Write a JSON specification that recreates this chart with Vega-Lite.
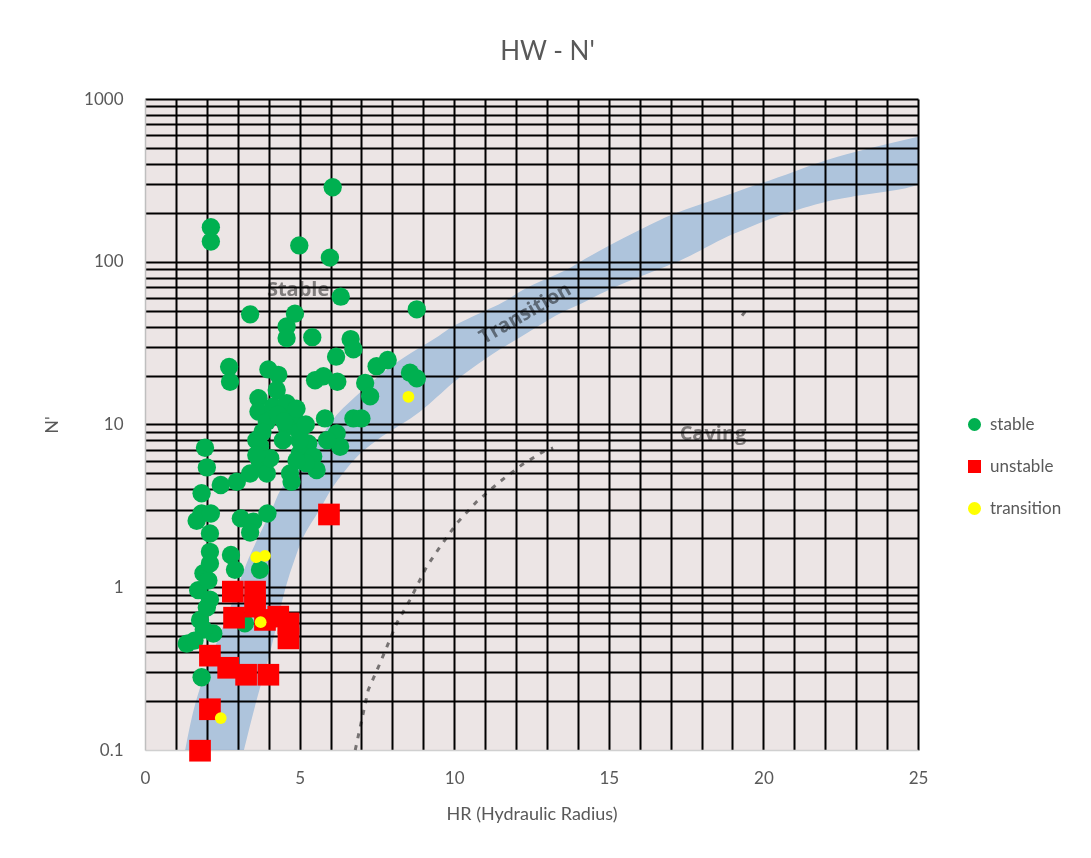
{
  "$schema": "https://vega.github.io/schema/vega-lite/v6.json",
  "width": 773,
  "height": 651,
  "autosize": {"type": "none"},
  "padding": {"left": 145, "top": 99, "right": 173, "bottom": 108},
  "background": "white",
  "config": {
    "font": "Lato",
    "view": {"fill": "#ece5e5", "stroke": null}
  },
  "title": {
    "text": "HW - N'",
    "fontSize": 26,
    "fontWeight": "normal",
    "color": "#595959",
    "anchor": "middle",
    "dx": 16,
    "offset": 25
  },
  "datasets": {
    "band": [
      {"n": 0.1, "hr": 1.3, "hr2": 3.2},
      {"n": 0.2, "hr": 1.65, "hr2": 3.6},
      {"n": 0.4, "hr": 2.2, "hr2": 4.05},
      {"n": 0.7, "hr": 2.7, "hr2": 4.35},
      {"n": 1.0, "hr": 3.0, "hr2": 4.55},
      {"n": 1.5, "hr": 3.35, "hr2": 4.85},
      {"n": 2.0, "hr": 3.65, "hr2": 5.1},
      {"n": 3.0, "hr": 4.1, "hr2": 5.65},
      {"n": 4.15, "hr": 4.45, "hr2": 6.08},
      {"n": 5.0, "hr": 4.8, "hr2": 6.4},
      {"n": 7.0, "hr": 5.35, "hr2": 7.1},
      {"n": 8.0, "hr": 5.6, "hr2": 7.5},
      {"n": 12, "hr": 6.3, "hr2": 8.9},
      {"n": 14.8, "hr": 6.8, "hr2": 9.45},
      {"n": 18, "hr": 7.3, "hr2": 9.95},
      {"n": 21.6, "hr": 7.8, "hr2": 10.5},
      {"n": 26, "hr": 8.4, "hr2": 11.1},
      {"n": 35, "hr": 9.5, "hr2": 12.2},
      {"n": 40, "hr": 9.95, "hr2": 12.7},
      {"n": 49, "hr": 10.9, "hr2": 13.5},
      {"n": 53, "hr": 11.3, "hr2": 13.9},
      {"n": 70, "hr": 12.4, "hr2": 15.2},
      {"n": 93, "hr": 13.8, "hr2": 16.8},
      {"n": 98, "hr": 14.0, "hr2": 17.1},
      {"n": 150, "hr": 15.8, "hr2": 19.1},
      {"n": 200, "hr": 17.2, "hr2": 20.8},
      {"n": 240, "hr": 18.4, "hr2": 22.3},
      {"n": 303, "hr": 19.9, "hr2": 25.0},
      {"n": 316, "hr": 20.2, "hr2": 25.0},
      {"n": 441, "hr": 22.4, "hr2": 25.0},
      {"n": 586, "hr": 25.0, "hr2": 25.0}
    ],
    "dash": [
      {"seg": "a", "hr": 6.8, "n": 0.1},
      {"seg": "a", "hr": 7.22, "n": 0.234},
      {"seg": "a", "hr": 7.6, "n": 0.341},
      {"seg": "a", "hr": 8.14, "n": 0.601},
      {"seg": "a", "hr": 8.57, "n": 0.836},
      {"seg": "a", "hr": 9.11, "n": 1.34},
      {"seg": "a", "hr": 9.54, "n": 1.77},
      {"seg": "a", "hr": 10.08, "n": 2.47},
      {"seg": "a", "hr": 10.73, "n": 3.36},
      {"seg": "a", "hr": 11.48, "n": 4.46},
      {"seg": "a", "hr": 12.18, "n": 5.64},
      {"seg": "a", "hr": 12.88, "n": 6.81},
      {"seg": "a", "hr": 13.2, "n": 7.17},
      {"seg": "b", "hr": 19.31, "n": 46.7},
      {"seg": "b", "hr": 19.5, "n": 52}
    ],
    "labels": [
      {"txt": "Stable", "hr": 4.95, "n": 67, "ang": 0},
      {"txt": "Transition", "hr": 12.3, "n": 48, "ang": 330},
      {"txt": "Caving", "hr": 18.37, "n": 8.75, "ang": 0}
    ],
    "pts": [
      {"hr": 6.07, "n": 287, "status": "stable"},
      {"hr": 2.13, "n": 163, "status": "stable"},
      {"hr": 2.13, "n": 133, "status": "stable"},
      {"hr": 4.99, "n": 126, "status": "stable"},
      {"hr": 5.98, "n": 106, "status": "stable"},
      {"hr": 6.33, "n": 61, "status": "stable"},
      {"hr": 8.79, "n": 51, "status": "stable"},
      {"hr": 3.4, "n": 47.5, "status": "stable"},
      {"hr": 4.85, "n": 48, "status": "stable"},
      {"hr": 4.58, "n": 40, "status": "stable"},
      {"hr": 4.58, "n": 34, "status": "stable"},
      {"hr": 5.41, "n": 34.4, "status": "stable"},
      {"hr": 6.65, "n": 33.5, "status": "stable"},
      {"hr": 6.74, "n": 29, "status": "stable"},
      {"hr": 6.18, "n": 26.1, "status": "stable"},
      {"hr": 2.72, "n": 22.6, "status": "stable"},
      {"hr": 2.75, "n": 18.3, "status": "stable"},
      {"hr": 3.99, "n": 21.8, "status": "stable"},
      {"hr": 4.31, "n": 20.2, "status": "stable"},
      {"hr": 5.5, "n": 18.7, "status": "stable"},
      {"hr": 5.77, "n": 19.8, "status": "stable"},
      {"hr": 6.22, "n": 18.3, "status": "stable"},
      {"hr": 7.12, "n": 18, "status": "stable"},
      {"hr": 7.28, "n": 14.9, "status": "stable"},
      {"hr": 7.49, "n": 22.8, "status": "stable"},
      {"hr": 7.85, "n": 24.9, "status": "stable"},
      {"hr": 8.57, "n": 20.8, "status": "stable"},
      {"hr": 8.79, "n": 19.2, "status": "stable"},
      {"hr": 3.67, "n": 14.5, "status": "stable"},
      {"hr": 3.67, "n": 12, "status": "stable"},
      {"hr": 4.26, "n": 16.3, "status": "stable"},
      {"hr": 4.15, "n": 12.9, "status": "stable"},
      {"hr": 4.58, "n": 13.5, "status": "stable"},
      {"hr": 4.8, "n": 11.2, "status": "stable"},
      {"hr": 3.94, "n": 10.4, "status": "stable"},
      {"hr": 4.58, "n": 9.7, "status": "stable"},
      {"hr": 5.82, "n": 10.9, "status": "stable"},
      {"hr": 6.74, "n": 10.9, "status": "stable"},
      {"hr": 7.0, "n": 10.9, "status": "stable"},
      {"hr": 6.2, "n": 8.8, "status": "stable"},
      {"hr": 6.31, "n": 7.3, "status": "stable"},
      {"hr": 5.28, "n": 7.65, "status": "stable"},
      {"hr": 5.01, "n": 6.65, "status": "stable"},
      {"hr": 5.44, "n": 6.35, "status": "stable"},
      {"hr": 5.55, "n": 5.25, "status": "stable"},
      {"hr": 4.69, "n": 5.0, "status": "stable"},
      {"hr": 4.74, "n": 4.45, "status": "stable"},
      {"hr": 3.72, "n": 7.4, "status": "stable"},
      {"hr": 3.72, "n": 5.8, "status": "stable"},
      {"hr": 3.94, "n": 5.0, "status": "stable"},
      {"hr": 3.4, "n": 5.0, "status": "stable"},
      {"hr": 2.97, "n": 4.45, "status": "stable"},
      {"hr": 2.45, "n": 4.25, "status": "stable"},
      {"hr": 1.94, "n": 7.2, "status": "stable"},
      {"hr": 2.0, "n": 5.45, "status": "stable"},
      {"hr": 1.83, "n": 3.78, "status": "stable"},
      {"hr": 1.83, "n": 2.84, "status": "stable"},
      {"hr": 1.67, "n": 2.56, "status": "stable"},
      {"hr": 2.13, "n": 2.84, "status": "stable"},
      {"hr": 2.1, "n": 2.14, "status": "stable"},
      {"hr": 2.1, "n": 1.65, "status": "stable"},
      {"hr": 3.1, "n": 2.65, "status": "stable"},
      {"hr": 3.5, "n": 2.53, "status": "stable"},
      {"hr": 3.96, "n": 2.84, "status": "stable"},
      {"hr": 3.4, "n": 2.17, "status": "stable"},
      {"hr": 2.78, "n": 1.58, "status": "stable"},
      {"hr": 2.91, "n": 1.28, "status": "stable"},
      {"hr": 3.72, "n": 1.28, "status": "stable"},
      {"hr": 1.89, "n": 1.22, "status": "stable"},
      {"hr": 1.72, "n": 0.96, "status": "stable"},
      {"hr": 2.1, "n": 0.84, "status": "stable"},
      {"hr": 1.78, "n": 0.63, "status": "stable"},
      {"hr": 2.21, "n": 0.52, "status": "stable"},
      {"hr": 1.35, "n": 0.45, "status": "stable"},
      {"hr": 1.83, "n": 0.28, "status": "stable"},
      {"hr": 3.23, "n": 0.6, "status": "stable"},
      {"hr": 4.46, "n": 8.0, "status": "stable"},
      {"hr": 5.0, "n": 8.0, "status": "stable"},
      {"hr": 5.89, "n": 8.0, "status": "stable"},
      {"hr": 3.6, "n": 8.0, "status": "stable"},
      {"hr": 4.3, "n": 11.5, "status": "stable"},
      {"hr": 5.0, "n": 9.0, "status": "stable"},
      {"hr": 5.2, "n": 5.8, "status": "stable"},
      {"hr": 4.9, "n": 6.0, "status": "stable"},
      {"hr": 4.5, "n": 10.5, "status": "stable"},
      {"hr": 3.8, "n": 9.0, "status": "stable"},
      {"hr": 4.9, "n": 12.5, "status": "stable"},
      {"hr": 5.2, "n": 10, "status": "stable"},
      {"hr": 4.05, "n": 6.2, "status": "stable"},
      {"hr": 3.6, "n": 6.5, "status": "stable"},
      {"hr": 2.05, "n": 1.1, "status": "stable"},
      {"hr": 2.1, "n": 1.4, "status": "stable"},
      {"hr": 2.0, "n": 0.75, "status": "stable"},
      {"hr": 1.9, "n": 0.55, "status": "stable"},
      {"hr": 1.6, "n": 0.47, "status": "stable"},
      {"hr": 5.95, "n": 2.8, "status": "unstable"},
      {"hr": 2.84, "n": 0.94, "status": "unstable"},
      {"hr": 3.56, "n": 0.94, "status": "unstable"},
      {"hr": 2.88, "n": 0.65, "status": "unstable"},
      {"hr": 3.56, "n": 0.76, "status": "unstable"},
      {"hr": 3.88, "n": 0.63, "status": "unstable"},
      {"hr": 4.31, "n": 0.66, "status": "unstable"},
      {"hr": 4.64, "n": 0.6, "status": "unstable"},
      {"hr": 4.64, "n": 0.485, "status": "unstable"},
      {"hr": 2.1, "n": 0.38, "status": "unstable"},
      {"hr": 2.69, "n": 0.32, "status": "unstable"},
      {"hr": 3.27, "n": 0.29, "status": "unstable"},
      {"hr": 3.99, "n": 0.29, "status": "unstable"},
      {"hr": 2.1, "n": 0.178, "status": "unstable"},
      {"hr": 1.78, "n": 0.099, "status": "unstable"},
      {"hr": 3.6, "n": 1.53, "status": "transition"},
      {"hr": 3.88, "n": 1.56, "status": "transition"},
      {"hr": 3.74, "n": 0.61, "status": "transition"},
      {"hr": 2.45, "n": 0.157, "status": "transition"},
      {"hr": 8.52, "n": 14.8, "status": "transition"}
    ]
  },
  "encoding": {
    "x": {
      "field": "hr",
      "type": "quantitative",
      "title": "HR (Hydraulic Radius)",
      "scale": {"domain": [0, 25], "nice": false, "zero": false},
      "axis": {
        "values": [0,1,2,3,4,5,6,7,8,9,10,11,12,13,14,15,16,17,18,19,20,21,22,23,24,25],
        "labelExpr": "datum.value % 5 === 0 ? datum.label : ''",
        "labelOverlap": false,
        "labelFlush": false,
        "ticks": false,
        "grid": true,
        "gridColor": {"condition": {"test": "datum.value <= 0", "value": "transparent"}, "value": "#000000"},
        "gridWidth": 2,
        "gridOpacity": 1,
        "domainColor": "#d0d0d0",
        "domainWidth": 1.5,
        "labelFontSize": 17,
        "labelColor": "#595959",
        "labelPadding": 20,
        "titleFontSize": 18,
        "titleFontWeight": "normal",
        "titleColor": "#595959",
        "titlePadding": 19
      }
    },
    "y": {
      "field": "n",
      "type": "quantitative",
      "title": "N'",
      "scale": {"type": "log", "domain": [0.1, 1000], "nice": false},
      "axis": {
        "values": [0.1,0.2,0.3,0.4,0.5,0.6,0.7,0.8,0.9,1,2,3,4,5,6,7,8,9,10,20,30,40,50,60,70,80,90,100,200,300,400,500,600,700,800,900,1000],
        "labelExpr": "abs(log(datum.value)/LN10 - round(log(datum.value)/LN10)) < 0.000001 ? format(datum.value, '~g') : ''",
        "labelOverlap": false,
        "labelFlush": false,
        "ticks": false,
        "grid": true,
        "gridColor": {"condition": {"test": "datum.value <= 0.1", "value": "transparent"}, "value": "#000000"},
        "gridWidth": 2,
        "gridOpacity": 1,
        "domainColor": "#bfbfbf",
        "domainWidth": 1.5,
        "labelFontSize": 17,
        "labelColor": "#595959",
        "labelPadding": 22,
        "titleFontSize": 18,
        "titleFontWeight": "normal",
        "titleColor": "#595959",
        "titlePadding": 22
      }
    }
  },
  "layer": [
    {
      "data": {"name": "band"},
      "mark": {"type": "area", "orient": "horizontal", "interpolate": "monotone", "fill": "#bcdaf5", "opacity": 1, "blend": "multiply"},
      "encoding": {
        "x2": {"field": "hr2"}
      }
    },
    {
      "data": {"name": "dash"},
      "mark": {"type": "line", "color": "#7f7f7f", "strokeWidth": 3, "strokeDash": [5, 7], "blend": "multiply"},
      "encoding": {
        "detail": {"field": "seg", "type": "nominal"},
        "order": {"field": "n", "type": "quantitative"}
      }
    },
    {
      "data": {"name": "labels"},
      "mark": {"type": "text", "fontSize": 20, "fontWeight": "bold", "color": "#8a8a8a", "blend": "multiply", "font": "Open Sans"},
      "encoding": {
        "text": {"field": "txt"},
        "angle": {"field": "ang", "type": "quantitative", "scale": null}
      }
    },
    {
      "data": {"name": "pts"},
      "transform": [{"filter": "datum.status === 'stable'"}],
      "mark": {"type": "point", "filled": true, "opacity": 1, "strokeWidth": 0, "size": 336, "clip": false},
      "encoding": {
        "color": {
          "field": "status",
          "type": "nominal",
          "scale": {"domain": ["stable", "unstable", "transition"], "range": ["#00b050", "#ff0000", "#ffff00"]},
          "legend": {
            "title": null,
            "orient": "none",
            "legendX": 821,
            "legendY": 317,
            "labelFontSize": 17,
            "labelColor": "#595959",
            "symbolSize": 170,
            "symbolStrokeWidth": 0,
            "rowPadding": 24,
            "labelOffset": 7
          }
        },
        "shape": {
          "field": "status",
          "type": "nominal",
          "scale": {"domain": ["stable", "unstable", "transition"], "range": ["circle", "square", "circle"]}
        }
      }
    },
    {
      "data": {"name": "pts"},
      "transform": [{"filter": "datum.status === 'unstable'"}],
      "mark": {"type": "point", "filled": true, "opacity": 1, "strokeWidth": 0, "size": 470, "clip": false},
      "encoding": {
        "color": {"field": "status", "type": "nominal"},
        "shape": {"field": "status", "type": "nominal"}
      }
    },
    {
      "data": {"name": "pts"},
      "transform": [{"filter": "datum.status === 'transition'"}],
      "mark": {"type": "point", "filled": true, "opacity": 1, "strokeWidth": 0, "size": 139, "clip": false},
      "encoding": {
        "color": {"field": "status", "type": "nominal"},
        "shape": {"field": "status", "type": "nominal"}
      }
    }
  ]
}
